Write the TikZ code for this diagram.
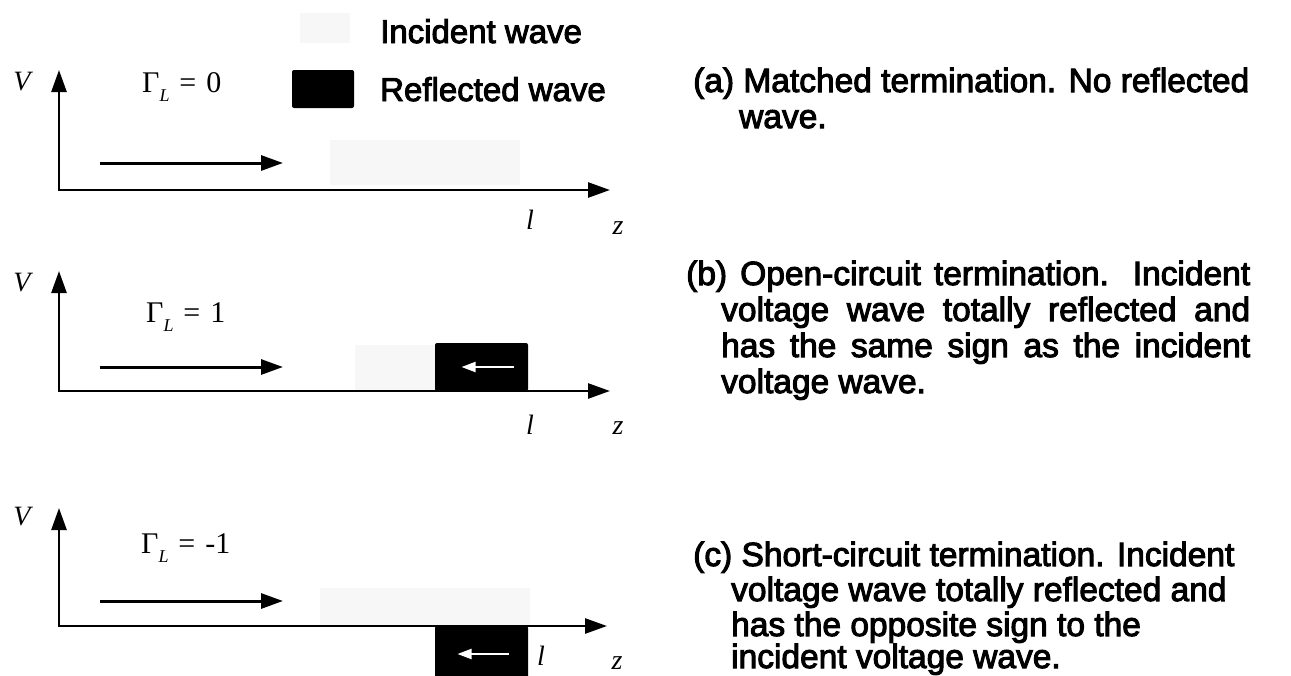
\documentclass[tikz,border=0pt]{standalone}
\usepackage{fontspec}
\setmainfont{Liberation Sans}
\newfontfamily\heavy{Liberation Sans}[RawFeature={embolden=3}]
\newfontfamily\tms{Liberation Serif}
\usetikzlibrary{arrows.meta}
\begin{document}
\begin{tikzpicture}[x=1pt,y=-1pt,
  axis/.style={line width=2.6pt,{Triangle[length=22pt,width=15pt]}-{Triangle[length=22pt,width=15pt]}},
  inc/.style={line width=3pt,-{Triangle[length=22pt,width=15pt]}},
  refl/.style={fill=black,rounded corners=2pt,inner sep=0pt},
  wht/.style={white,line width=2pt,-{Triangle[length=14pt,width=10pt]}},
  faint/.style={fill=black!3,inner sep=0pt},
  lbl/.style={inner sep=0pt,font=\tms\itshape\fontsize{28}{30}\selectfont},
  gam/.style={inner sep=0pt,anchor=base west,font=\tms\fontsize{30}{30}\selectfont},
  txt/.style={inner sep=0pt,anchor=base west,font=\heavy\fontsize{33.5}{36}\selectfont},
  leg/.style={inner sep=0pt,anchor=base west,font=\heavy\fontsize{33}{36}\selectfont}]
\useasboundingbox (0,0) rectangle (1291,675);
\newcommand{\GamL}[1]{Γ\raisebox{-0.3em}{\fontsize{18}{18}\selectfont\itshape L}\hspace{0.33em}=\hspace{0.33em}#1}

% legend
\node[faint,minimum width=50pt,minimum height=30pt] (legi) at (325,28) {};
\node[leg] (legit) at (380,43) {Incident wave};
\node[refl,minimum width=62pt,minimum height=38pt] (legr) at (323,89) {};
\node[leg] (legrt) at (380,101) {Reflected wave};

% panel a
\node[faint,minimum width=190pt,minimum height=45pt] (fa) at (425,162) {};
\coordinate (ya) at (59,70);
\coordinate (oa) at (59,190);
\coordinate (xa) at (610,190);
\draw[axis] (ya) -- (oa) -- (xa);
\coordinate (ia1) at (100,163);
\coordinate (ia2) at (283,163);
\draw[inc] (ia1) -- (ia2);
\node[lbl] (va) at (22,82) {V};
\node[gam] (ga) at (142,92) {\GamL{0}};
\node[lbl] (la) at (530,220) {l};
\node[lbl] (za) at (618,228) {z};

% panel b
\node[faint,minimum width=80pt,minimum height=46pt] (fb) at (395,368) {};
\coordinate (yb) at (59,271);
\coordinate (ob) at (59,391);
\coordinate (xb) at (610,391);
\draw[axis] (yb) -- (ob) -- (xb);
\coordinate (ib1) at (100,367);
\coordinate (ib2) at (283,367);
\draw[inc] (ib1) -- (ib2);
\node[refl,minimum width=93pt,minimum height=48pt] (rb) at (481.5,367) {};
\draw[wht] ([xshift=32pt]rb.center) -- ([xshift=-20pt]rb.center);
\node[lbl] (vb) at (22,283) {V};
\node[gam] (gb) at (146,322) {\GamL{1}};
\node[lbl] (lb) at (530,425) {l};
\node[lbl] (zb) at (618,428) {z};

% panel c
\node[faint,minimum width=210pt,minimum height=38pt] (fc) at (425,607) {};
\coordinate (yc) at (59,508);
\coordinate (oc) at (59,626);
\coordinate (xc) at (607,626);
\draw[axis] (yc) -- (oc) -- (xc);
\coordinate (ic1) at (100,601);
\coordinate (ic2) at (283,601);
\draw[inc] (ic1) -- (ic2);
\node[refl,minimum width=93pt,minimum height=52pt] (rc) at (481.5,652) {};
\draw[wht] ([xshift=27pt,yshift=-2pt]rc.center) -- ([xshift=-24pt,yshift=-2pt]rc.center);
\node[lbl] (vc) at (22,517) {V};
\node[gam] (gc) at (141,553) {\GamL{-1}};
\node[lbl] (lc) at (541,656) {l};
\node[lbl] (zc) at (617,663) {z};

% captions
\node[txt] (ta1) at (693,92) {(a) Matched termination. No reflected};
\node[txt] (ta2) at (739,128) {wave.};

\node[txt] (tb1) at (686,285) {\makebox[564pt][s]{(b) Open-circuit termination. Incident}};
\node[txt] (tb2) at (721,321) {\makebox[529pt][s]{voltage wave totally reflected and}};
\node[txt] (tb3) at (721,357) {\makebox[529pt][s]{has the same sign as the incident}};
\node[txt] (tb4) at (721,393) {voltage wave.};

\node[txt] (tc1) at (693,566) {(c) Short-circuit termination. Incident};
\node[txt] (tc2) at (731,601) {voltage wave totally reflected and};
\node[txt] (tc3) at (731,636) {has the opposite sign to the};
\node[txt] (tc4) at (731,668) {incident voltage wave.};
\end{tikzpicture}
\end{document}
